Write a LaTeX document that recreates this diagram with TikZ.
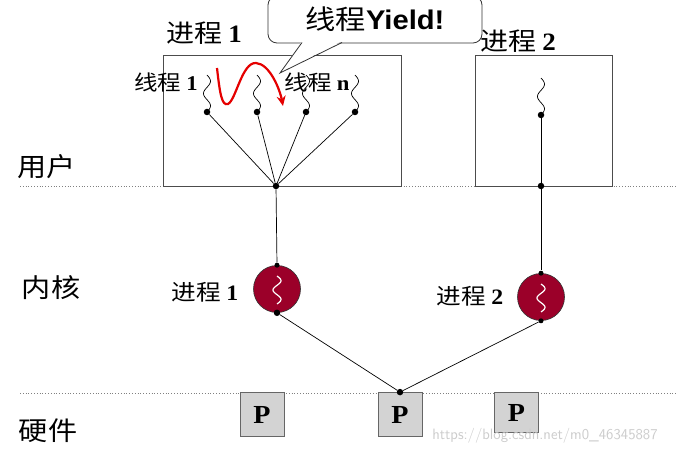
\documentclass[tikz,border=0pt]{standalone}
\usepackage{fontspec}
\setmainfont{Liberation Serif}[FakeStretch=1.08]
\newfontfamily\cjk{Noto Sans CJK SC}[FakeStretch=1.12]
\newfontfamily\arialb{Liberation Sans Bold}[FakeStretch=1.08]
\newcommand\bnum[1]{{\rmfamily\bfseries #1}}
\usetikzlibrary{arrows.meta}
\definecolor{procred}{HTML}{9B0029}
\definecolor{pgray}{HTML}{D3D3D3}
\tikzset{
  lay/.style={gray, line width=0.8pt, dotted},
  pbox/.style={draw=black!70, line width=0.7pt},
  dotn/.style={circle, fill=black, inner sep=0pt, minimum size=6.5pt},
  lbl/.style={font=\fontsize{25}{27}\selectfont, inner sep=0pt},
  klbl/.style={font=\fontsize{22}{24}\selectfont, inner sep=0pt},
  side/.style={font=\fontsize{26}{28}\selectfont, inner sep=0pt},
  tlbl/.style={font=\fontsize{21}{23}\selectfont, inner sep=0pt},
  kproc/.style={circle, draw=black!80, fill=procred, minimum size=47pt, inner sep=0pt, line width=0.6pt},
  cpu/.style={draw=black!60, fill=pgray, minimum width=44pt, minimum height=44pt, inner sep=0pt, line width=0.8pt, font=\fontsize{26}{28}\selectfont\bfseries},
  conn/.style={black, line width=0.7pt},
}
\begin{document}
\begin{tikzpicture}[x=1pt,y=-1pt]
\useasboundingbox (0,0) rectangle (677,454);
\fill[white] (0,0) rectangle (677,454);
% layer lines
\coordinate (l1a) at (20,186); \coordinate (l1b) at (677,186);
\coordinate (l2a) at (20,393); \coordinate (l2b) at (677,393);
\draw[lay] (l1a) -- (l1b);
\draw[lay] (l2a) -- (l2b);
\node[side] (user) at (47,167) {\cjk 用户};
\node[side] (kern) at (51,288) {\cjk 内核};
\node[side] (hw) at (48,431) {\cjk 硬件};
% process boxes
\node[pbox, minimum width=238pt, minimum height=131pt, inner sep=0pt] (p1) at (282.5,120.5) {};
\node[pbox, minimum width=137pt, minimum height=131pt, inner sep=0pt] (p2) at (543.5,120.5) {};
\node[lbl] (p1l) at (204,33) {\cjk 进程 \bnum{1}};
\node[lbl] (p2l) at (518,41) {\cjk 进程 \bnum{2}};
% threads
\node[dotn] (c1) at (276,186) {};
\foreach \i/\xx in {1/207,2/257,3/306,4/355}{
  \node[dotn] (t\i) at (\xx,112) {};
  \draw[conn] plot[domain=0:1, samples=40, smooth] ({\xx+3.5*sin(540*\x)}, {75+37*\x});
  \draw[conn] (t\i) -- (c1);
}
\node[tlbl] (tl1) at (166,82) {\cjk 线程 \bnum{1}};
\node[tlbl] (tln) at (317,82) {\cjk 线程 \bnum{n}};
\node[dotn] (t5) at (541,115) {};
\node[dotn] (c2) at (541,186) {};
\draw[conn] plot[domain=0:1, samples=40, smooth] ({541+3.5*sin(540*\x)}, {78+37*\x});
\draw[conn] (t5) -- (c2);
% kernel processes
\node[kproc] (k1) at (277,289) {};
\node[kproc] (k2) at (541,297) {};
\draw[white, line width=1.2pt] plot[domain=0:1, samples=30, smooth] ({277+4*sin(540*\x)}, {276+28*\x});
\draw[white, line width=1.2pt] plot[domain=0:1, samples=30, smooth] ({541+4*sin(540*\x)}, {284+28*\x});
\node[dotn, minimum size=5pt] (k1t) at (k1.north) {};
\node[dotn] (k1b) at (k1.south) {};
\node[dotn, minimum size=5pt] (k2t) at (k2.north) {};
\node[dotn, minimum size=5pt] (k2b) at (k2.south) {};
\node[klbl] (k1l) at (205,292) {\cjk 进程 \bnum{1}};
\node[klbl] (k2l) at (470,296) {\cjk 进程 \bnum{2}};
\draw[conn] (c1) -- (k1t);
\draw[conn] (c2) -- (k2t);
% processors
\node[cpu] (cpu1) at (262,414.5) {P};
\node[cpu] (cpu2) at (400,414.5) {P};
\node[cpu, minimum height=40pt] (cpu3) at (516.5,412.5) {P};
\node[dotn] (hub) at (cpu2.north) {};
\draw[conn] (k1b) -- (hub);
\draw[conn] (k2b) -- (hub);
% callout
\node[draw=black!80, line width=0.8pt, rounded corners=9pt, minimum width=214pt, minimum height=47pt, inner sep=0pt] (yield) at (375,19.5) {\fontsize{27}{29}\selectfont\cjk 线程{\arialb Yield!}};
\coordinate (tip) at (280,73);
\fill[white] (302,41) -- (tip) -- (342,41) -- cycle;
\draw[black!80, line width=0.8pt] (302,42.5) -- (tip) -- (342,42.5);
% red yield arrow
\draw[red!90!black, line width=2.2pt, -{Stealth[length=10pt,width=9pt]}]
  (217,68) .. controls (220,95) and (222,106) .. (228,104)
  .. controls (236,100) and (242,62) .. (256,63)
  .. controls (270,64) and (280,90) .. (283,106);
% watermark
\node[font=\fontsize{15}{16}\selectfont\sffamily, text=gray!40, inner sep=0pt] (wm) at (545,436) {https://blog.csdn.net/m0\_46345887};
\end{tikzpicture}
\end{document}
